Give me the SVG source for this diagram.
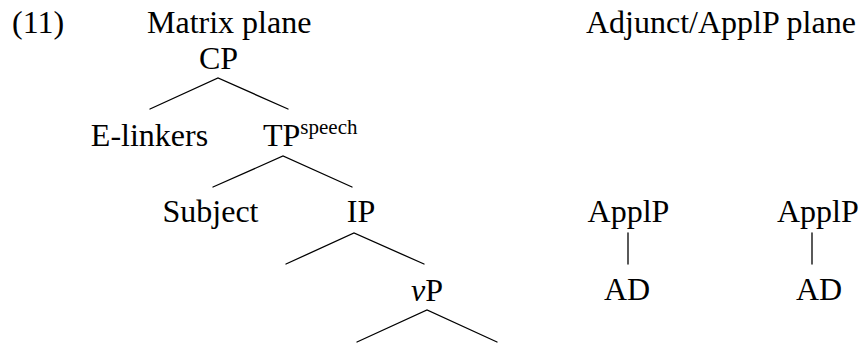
<svg xmlns="http://www.w3.org/2000/svg" width="859" height="344" viewBox="0 0 859 344">
<style>
text { font-size: 32px; fill: #000; }
.c { text-anchor: middle; }
.sup { font-size: 21px; }
.e { stroke: #000; stroke-width: 1.3; fill: none; stroke-linecap: round; }
</style>
<rect width="859" height="344" fill="#fff"/>
<g font-family="'Liberation Serif', 'Times New Roman', Times, serif">
<g id="headings">
<text x="12" y="33">(11)</text>
<text x="147" y="33">Matrix plane</text>
<text x="586" y="33">Adjunct/ApplP plane</text>
</g>
<g id="node-CP"><text class="c" x="218.5" y="69">CP</text></g>
<g id="node-Elinkers"><text class="c" x="149.5" y="146">E-linkers</text></g>
<g id="node-TP"><text x="263" y="146">TP<tspan class="sup" dy="-12">speech</tspan></text></g>
<g id="node-Subject"><text class="c" x="210.5" y="222">Subject</text></g>
<g id="node-IP"><text class="c" x="361" y="222">IP</text></g>
<g id="node-vP"><text class="c" x="427" y="301"><tspan font-style="italic">v</tspan>P</text></g>
<g id="node-ApplP1"><text class="c" x="628.5" y="222">ApplP</text></g>
<g id="node-AD1"><text class="c" x="627" y="300">AD</text></g>
<g id="node-ApplP2"><text x="777" y="222">ApplP</text></g>
<g id="node-AD2"><text class="c" x="819" y="300">AD</text></g>
</g>
<g id="connectors">
<path class="e" d="M150,109 L218,78 L288,109"/>
<path class="e" d="M213,187 L283,156 L352,187"/>
<path class="e" d="M286,264 L354,233 L424,264"/>
<path class="e" d="M357,342 L427,310 L497,342"/>
<path class="e" d="M628,233 L628,264"/>
<path class="e" d="M812,233 L812,264"/>
</g>
</svg>
